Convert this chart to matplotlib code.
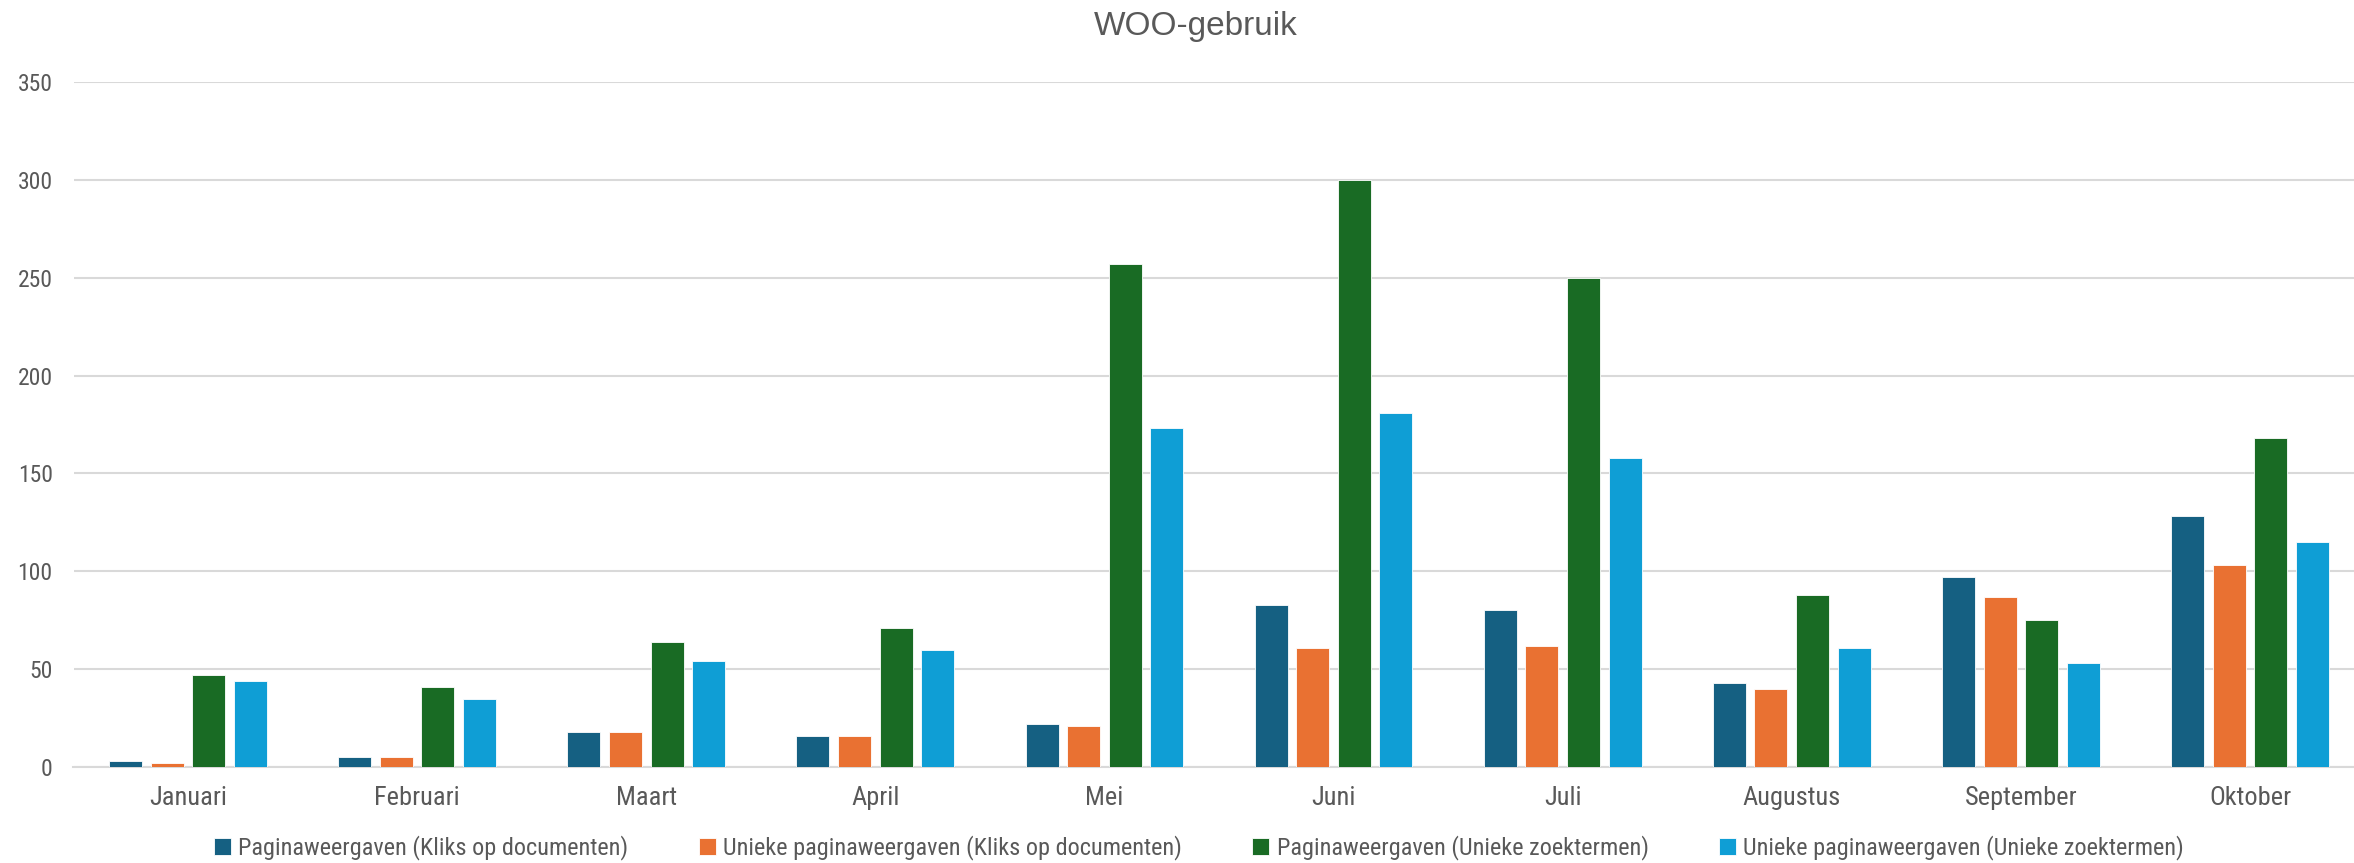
import matplotlib
matplotlib.use("Agg")
import matplotlib.pyplot as plt
import numpy as np
from matplotlib import font_manager

names = {f.name for f in font_manager.fontManager.ttflist}
narrow = next((n for n in ["Roboto Condensed", "Archivo Narrow", "Barlow Semi Condensed",
                           "Liberation Sans Narrow", "Liberation Sans"] if n in names), "DejaVu Sans")
plt.rcParams['font.family'] = [narrow, 'DejaVu Sans']

categories = ["Januari", "Februari", "Maart", "April", "Mei", "Juni", "Juli",
              "Augustus", "September", "Oktober"]
series_names = ["Paginaweergaven (Kliks op documenten)",
                "Unieke paginaweergaven (Kliks op documenten)",
                "Paginaweergaven (Unieke zoektermen)",
                "Unieke paginaweergaven (Unieke zoektermen)"]
pv_kliks = [3, 5, 18, 16, 22, 83, 80, 43, 97, 128]
upv_kliks = [2, 5, 18, 16, 21, 61, 62, 40, 87, 103]
pv_zoek = [47, 41, 64, 71, 257, 300, 250, 88, 75, 168]
upv_zoek = [44, 35, 54, 60, 173, 181, 158, 61, 53, 115]
colors = ["#156082", "#E97132", "#196B24", "#0F9ED5"]

series = [pv_kliks, upv_kliks, pv_zoek, upv_zoek]

W, H = 2354, 863
fig = plt.figure(figsize=(W / 100, H / 100), dpi=100)
ax_left, ax_right = 73.5, 2364.5
ax_bottom, ax_top = 767, 82
ax = fig.add_axes([ax_left / W, (H - ax_bottom) / H,
                   (ax_right - ax_left) / W, (ax_bottom - ax_top) / H])

x = np.arange(len(categories))
step = 0.1817
width = 0.144
text_color = "#595959"
for i, (vals, name, c) in enumerate(zip(series, series_names, colors)):
    ax.bar(x + (i - 1.5) * step, vals, width=width, color=c, label=name,
           edgecolor="white", linewidth=0.6, zorder=3)

ax.set_xlim(-0.5, len(categories) - 0.5)
ax.set_ylim(0, 350)
ax.set_yticks(np.arange(0, 351, 50))
ax.yaxis.grid(True, color="#D9D9D9", linewidth=1.5, zorder=0)
ax.set_axisbelow(True)
for s in ["top", "right", "left"]:
    ax.spines[s].set_visible(False)
ax.spines["bottom"].set_color("#D9D9D9")
ax.spines["bottom"].set_linewidth(1.5)
ax.set_xticks(x)
ax.set_xticklabels(categories)
ax.tick_params(axis="both", length=0, labelcolor=text_color)
ax.tick_params(axis="y", labelsize=17, pad=15)
ax.tick_params(axis="x", labelsize=19, pad=14)

fig.text(1196 / W, 1 - 27 / H, "WOO-gebruik", ha="center", va="center",
         fontsize=24, color=text_color, family=["Liberation Sans", "DejaVu Sans"])

leg = fig.legend(loc="center", bbox_to_anchor=(1199 / W, 1 - 848 / H), ncol=4,
                 frameon=False, fontsize=17.5, handlelength=0.7, handleheight=0.7,
                 handletextpad=0.3, columnspacing=2.9, labelcolor=text_color)

fig.savefig("out.png", dpi=100, facecolor="white")
